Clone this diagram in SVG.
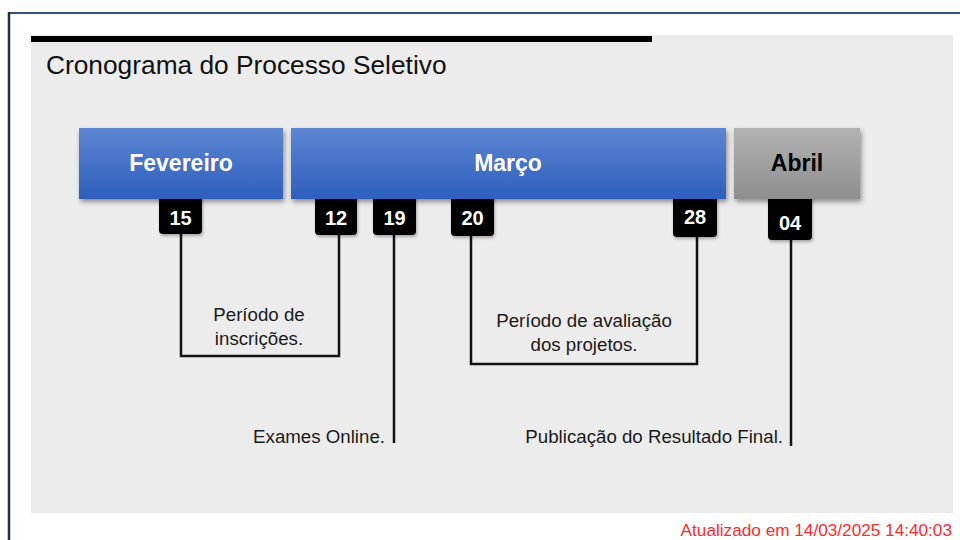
<svg xmlns="http://www.w3.org/2000/svg" width="960" height="540" viewBox="0 0 960 540">
<defs>
  <linearGradient id="blue" x1="0" y1="0" x2="0" y2="1">
    <stop offset="0" stop-color="#5d86d2"/>
    <stop offset="1" stop-color="#2e5fbd"/>
  </linearGradient>
  <linearGradient id="gray" x1="0" y1="0" x2="0" y2="1">
    <stop offset="0" stop-color="#b2b2b2"/>
    <stop offset="1" stop-color="#8e8e8e"/>
  </linearGradient>
  <filter id="sh" x="-10%" y="-20%" width="120%" height="150%">
    <feDropShadow dx="1.5" dy="3" stdDeviation="2.5" flood-color="#000" flood-opacity="0.4"/>
  </filter>
  <filter id="sh2" x="-20%" y="-20%" width="140%" height="150%">
    <feDropShadow dx="1" dy="2" stdDeviation="1.5" flood-color="#000" flood-opacity="0.3"/>
  </filter>
  <style>
    .month{font-family:"Liberation Sans",Arial,sans-serif;font-weight:bold;font-size:23px;text-anchor:middle}
    .tag{fill:#000;filter:url(#sh2)}
    .num{font-family:"Liberation Sans",Arial,sans-serif;font-weight:bold;font-size:20px;fill:#fff;text-anchor:middle}
    .lbl{font-family:"Liberation Sans",Arial,sans-serif;font-size:18.7px;fill:#1a1a1a}
    .ln{fill:none;stroke:#111;stroke-width:2.5}
  </style>
</defs>
<rect x="0" y="0" width="960" height="540" fill="#fff"/>
<line x1="8" y1="13" x2="960" y2="13" stroke="#3a5180" stroke-width="2"/>
<line x1="9" y1="12" x2="9" y2="540" stroke="#1f2d50" stroke-width="2.5"/>
<rect x="31" y="35" width="922" height="478" fill="#ececec"/>
<rect x="31" y="36" width="621" height="6" fill="#000"/>
<text x="46" y="74" font-family="'Liberation Sans',Arial,sans-serif" font-size="26.3" fill="#111">Cronograma do Processo Seletivo</text>

<g id="connectors">
  <polyline class="ln" points="181,230 181,356 339,356 339,230"/>
  <polyline class="ln" points="394,230 394,443"/>
  <polyline class="ln" points="471,230 471,364 697,364 697,230"/>
  <polyline class="ln" points="791,230 791,446"/>
</g>

<g id="tag-15"><rect class="tag" x="159" y="190" width="43" height="44" rx="4"/><text class="num" x="180.5" y="225">15</text></g>
<g id="tag-12"><rect class="tag" x="315" y="190" width="42" height="45" rx="4"/><text class="num" x="336" y="225">12</text></g>
<g id="tag-19"><rect class="tag" x="373" y="190" width="43" height="45" rx="4"/><text class="num" x="394.5" y="225">19</text></g>
<g id="tag-20"><rect class="tag" x="451" y="190" width="43" height="46" rx="4"/><text class="num" x="472.5" y="225">20</text></g>
<g id="tag-28"><rect class="tag" x="673" y="190" width="44" height="47" rx="4"/><text class="num" x="695" y="224">28</text></g>
<g id="tag-04"><rect class="tag" x="768" y="190" width="44" height="50" rx="4"/><text class="num" x="790" y="230">04</text></g>

<g id="fevereiro">
  <rect x="79" y="128" width="204" height="71" fill="url(#blue)" filter="url(#sh)"/>
  <text class="month" x="181" y="171" fill="#fff">Fevereiro</text>
</g>
<g id="marco">
  <rect x="291" y="128" width="435" height="71" fill="url(#blue)" filter="url(#sh)"/>
  <text class="month" x="508" y="171" fill="#fff">Março</text>
</g>
<g id="abril">
  <rect x="734" y="128" width="126" height="71" fill="url(#gray)" filter="url(#sh)"/>
  <text class="month" x="797" y="171" fill="#000">Abril</text>
</g>

<g id="label-inscricoes">
  <text class="lbl" x="259" y="321" text-anchor="middle">Período de</text>
  <text class="lbl" x="259" y="345" text-anchor="middle">inscrições.</text>
</g>
<g id="label-avaliacao">
  <text class="lbl" x="584" y="327" text-anchor="middle">Período de avaliação</text>
  <text class="lbl" x="584" y="351" text-anchor="middle">dos projetos.</text>
</g>
<g id="label-exames">
  <text class="lbl" x="385" y="443" text-anchor="end">Exames Online.</text>
</g>
<g id="label-resultado">
  <text class="lbl" x="783" y="443" text-anchor="end">Publicação do Resultado Final.</text>
</g>
<text x="952" y="536" text-anchor="end" font-family="'Liberation Sans',Arial,sans-serif" font-size="17.2" fill="#ff2a2a">Atualizado em 14/03/2025 14:40:03</text>
</svg>
